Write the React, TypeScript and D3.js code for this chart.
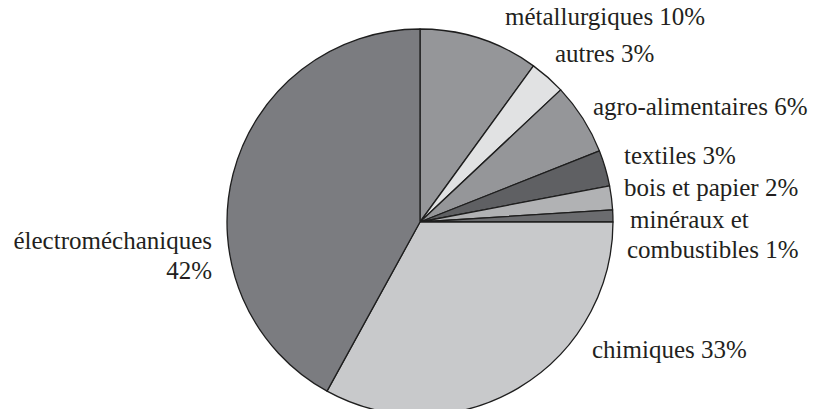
import React from "react";
import * as d3 from "d3";

const categories = [
  "métallurgiques",
  "autres",
  "agro-alimentaires",
  "textiles",
  "bois et papier",
  "minéraux et combustibles",
  "chimiques",
  "électroméchaniques",
];
const shares = [10, 3, 6, 3, 2, 1, 33, 42];
const fills = [
  "#959699",
  "#e1e2e3",
  "#959699",
  "#5f6063",
  "#b1b2b4",
  "#6b6c6f",
  "#c8c9cb",
  "#7b7c80",
];
// label text, one array entry per line
const labelLines = [
  ["métallurgiques 10%"],
  ["autres 3%"],
  ["agro-alimentaires 6%"],
  ["textiles 3%"],
  ["bois et papier 2%"],
  ["minéraux et", "combustibles 1%"],
  ["chimiques 33%"],
  ["électroméchaniques", "42%"],
];

const W = 814;
const H = 409;
const cx = 420;
const cy = 222;
const R = 193;

// label placement relative to the pie
const labelPos: { x: number; y: number; anchor: string; x2?: number }[] = [
  { x: 505, y: 25, anchor: "start" },
  { x: 555, y: 62, anchor: "start" },
  { x: 593, y: 115, anchor: "start" },
  { x: 624, y: 164, anchor: "start" },
  { x: 624, y: 196, anchor: "start" },
  { x: 630, y: 228, anchor: "start", x2: 627 },
  { x: 592, y: 358, anchor: "start" },
  { x: 212, y: 249, anchor: "end" },
];

export default function App() {
  const pie = d3.pie<number>().sort(null).value((d) => d);
  const arcs = pie(shares);
  const arc = d3.arc<d3.PieArcDatum<number>>().innerRadius(0).outerRadius(R);
  return (
    <svg
      width={W}
      height={H}
      style={{
        position: "absolute",
        left: 0,
        top: 0,
        background: "#fff",
        fontFamily: '"Liberation Serif", "Times New Roman", serif',
      }}
    >
      <g transform={`translate(${cx},${cy})`}>
        {arcs.map((a, i) => (
          <path
            key={categories[i]}
            d={arc(a) || ""}
            fill={fills[i]}
            stroke="#1e1e1e"
            strokeWidth={1.3}
            strokeLinejoin="round"
          />
        ))}
      </g>
      {labelLines.map((lines, i) => (
        <text
          key={categories[i]}
          y={labelPos[i].y}
          textAnchor={labelPos[i].anchor}
          fontSize={25}
          fill="#231f20"
          style={{ fontFamily: '"Liberation Serif", "Times New Roman", serif' }}
        >
          {lines.map((l, j) => (
            <tspan
              key={j}
              x={j === 0 ? labelPos[i].x : labelPos[i].x2 ?? labelPos[i].x}
              dy={j === 0 ? 0 : 30}
            >
              {l}
            </tspan>
          ))}
        </text>
      ))}
    </svg>
  );
}
